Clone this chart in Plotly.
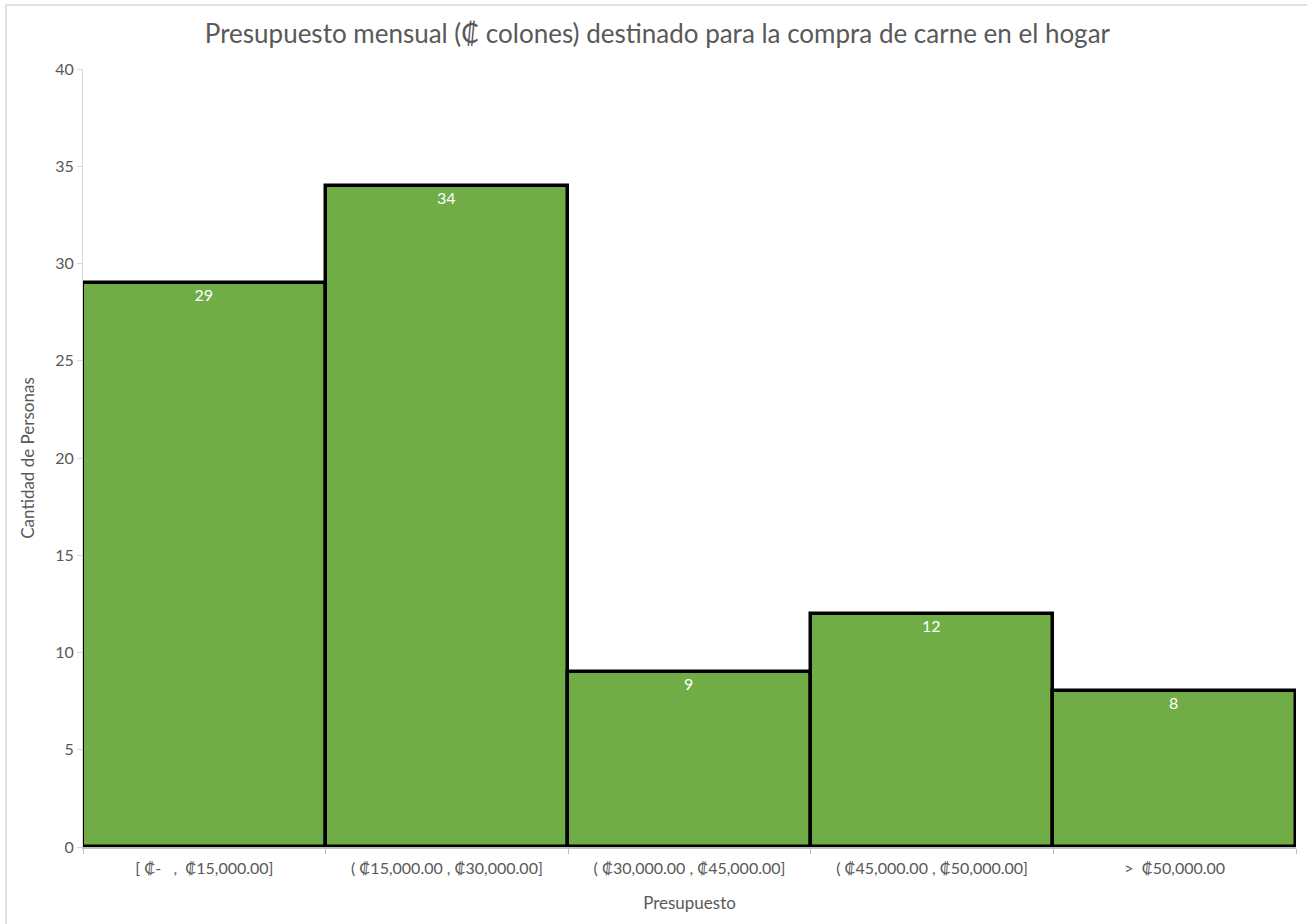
import plotly.graph_objects as go

categories = ["[ ₡-   ,  ₡15,000.00]", "( ₡15,000.00 , ₡30,000.00]", "( ₡30,000.00 , ₡45,000.00]",
              "( ₡45,000.00 , ₡50,000.00]", ">  ₡50,000.00"]
counts = [29, 34, 9, 12, 8]
y_ticks = [0, 5, 10, 15, 20, 25, 30, 35, 40]

W, H = 1307, 924
L, R, T, B = 83, 11, 69, 77
FONT = "Lato"
GRAY = "#595959"

fig = go.Figure(go.Bar(
    x=categories, y=counts, width=1,
    marker=dict(color="#70ad47", line=dict(color="black", width=3.5)),
    text=[str(c) for c in counts], textposition="inside", insidetextanchor="end",
    textfont=dict(color="white", size=16, family=FONT), textangle=0,
))

ph = H - T - B
pw = W - L - R
fig.update_layout(
    width=W, height=H, margin=dict(l=L, r=R, t=T, b=B),
    paper_bgcolor="white", plot_bgcolor="white", showlegend=False,
    font=dict(family=FONT, color=GRAY, size=16),
    bargap=0,
    title=dict(text="Presupuesto mensual (₡ colones) destinado para la compra de carne en el hogar",
               x=0.503, xanchor="center", y=1 - 34 / H, yanchor="middle",
               font=dict(size=26, color=GRAY, family=FONT)),
    xaxis=dict(showline=True, linecolor="#bfbfbf", linewidth=1.5, ticks="outside", tickson="boundaries",
               tickcolor="#bfbfbf", ticklen=5, tickfont=dict(size=16, color=GRAY),
               ticklabelstandoff=6,
               title=dict(text="Presupuesto", font=dict(size=17, color=GRAY), standoff=21),
               showgrid=False),
    yaxis=dict(range=[0, 40], tickvals=y_ticks, showline=True, linecolor="#d9d9d9", linewidth=1,
               ticks="outside", tickcolor="#d9d9d9", ticklen=5, showgrid=False, zeroline=False,
               tickfont=dict(size=16, color=GRAY),
               title=dict(text="Cantidad de Personas", font=dict(size=17, color=GRAY), standoff=16)),
    shapes=[dict(type="rect", xref="paper", yref="paper",
                 x0=(6 - L) / pw, x1=(W + 5 - L) / pw,
                 y0=(H - B - (H + 5)) / ph, y1=(H - B - 5) / ph,
                 line=dict(color="#d9d9d9", width=1.5), layer="below")],
)

fig.write_html("out.html")
